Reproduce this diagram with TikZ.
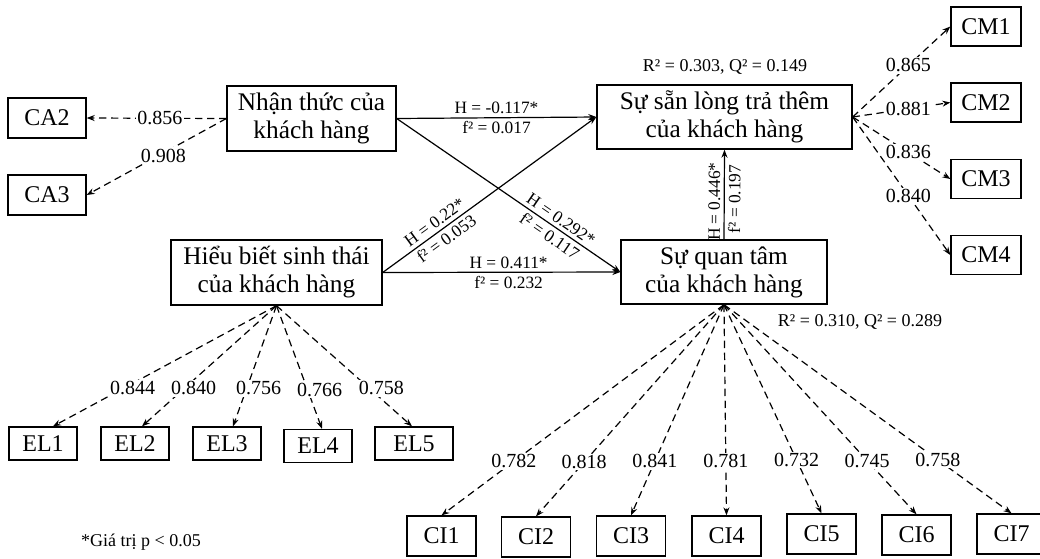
\documentclass[tikz,border=0pt]{standalone}
\usepackage{fontspec}
\setmainfont{Liberation Serif}
\usetikzlibrary{arrows.meta,calc}
\begin{document}
\begin{tikzpicture}[x=0.75pt,y=-0.75pt,
  construct/.style={draw,line width=1pt,inner sep=0pt,align=center,font=\fontsize{19pt}{21pt}\selectfont},
  indic/.style={draw,line width=1pt,inner sep=0pt,font=\fontsize{18pt}{21pt}\selectfont},
  sarrow/.style={line width=0.9pt,-{Stealth[length=6pt,width=4.5pt]}},
  load/.style={line width=0.9pt,dash pattern=on 5.5pt off 3.5pt,-{Stealth[length=6pt,width=4.5pt]}},
  lab/.style={fill=white,inner sep=1pt,font=\fontsize{15pt}{17pt}\selectfont},
  plab/.style={inner sep=2.5pt,font=\fontsize{13pt}{15pt}\selectfont},
  note/.style={font=\fontsize{13.5pt}{16pt}\selectfont}
]
\useasboundingbox (0,0) rectangle (1040,558);

% constructs
\node[construct,minimum width=126.75pt,minimum height=48.75pt] (nt) at (311.5,118.5) {Nhận thức của\\khách hàng};
\node[construct,minimum width=191.25pt,minimum height=48pt] (ss) at (724.5,117) {Sự sẵn lòng trả thêm\\của khách hàng};
\node[construct,minimum width=154.5pt,minimum height=48pt] (qt) at (724,272) {Sự quan tâm\\của khách hàng};
\node[construct,minimum width=158.25pt,minimum height=48.75pt] (hb) at (276.5,272.5) {Hiểu biết sinh thái\\của khách hàng};

% indicators
\node[indic,minimum width=58.5pt,minimum height=30pt] (ca2) at (47,118) {CA2};
\node[indic,minimum width=58.5pt,minimum height=30pt] (ca3) at (47,195) {CA3};

\node[indic,minimum width=52.5pt,minimum height=29.25pt] (cm1) at (986,26.5) {CM1};
\node[indic,minimum width=52.5pt,minimum height=29.25pt] (cm2) at (986,102.5) {CM2};
\node[indic,minimum width=52.5pt,minimum height=29.25pt] (cm3) at (986,179) {CM3};
\node[indic,minimum width=52.5pt,minimum height=29.25pt] (cm4) at (986,255) {CM4};

\node[indic,minimum width=51pt,minimum height=24.75pt] (el1) at (43,443.5) {EL1};
\node[indic,minimum width=51pt,minimum height=24.75pt] (el2) at (135,443.5) {EL2};
\node[indic,minimum width=51pt,minimum height=24.75pt] (el3) at (227,443.5) {EL3};
\node[indic,minimum width=51pt,minimum height=24.75pt] (el4) at (318,446) {EL4};
\node[indic,minimum width=58.5pt,minimum height=24.75pt] (el5) at (414,443.5) {EL5};

\node[indic,minimum width=51.75pt,minimum height=30pt] (ci1) at (441.5,536) {CI1};
\node[indic,minimum width=51.75pt,minimum height=30pt] (ci2) at (536,537) {CI2};
\node[indic,minimum width=51.75pt,minimum height=30pt] (ci3) at (631,536) {CI3};
\node[indic,minimum width=51.75pt,minimum height=30pt] (ci4) at (726.5,536) {CI4};
\node[indic,minimum width=51.75pt,minimum height=30pt] (ci5) at (821.5,534) {CI5};
\node[indic,minimum width=51.75pt,minimum height=30pt] (ci6) at (916.5,535) {CI6};
\node[indic,minimum width=51.75pt,minimum height=30pt] (ci7) at (1011.5,534) {CI7};

% structural paths
\draw[sarrow] (nt.east) -- node[plab,above]{H = -0.117*} node[plab,below]{f² = 0.017} (ss.west);
\draw[sarrow] (nt.east) -- node[plab,above,sloped,pos=0.71]{H = 0.292*} node[plab,below,sloped,pos=0.71]{f² = 0.117} (qt.west);
\draw[sarrow] (hb.east) -- node[plab,above,sloped,pos=0.27]{H = 0.22*} node[plab,below,sloped,pos=0.27]{f² = 0.053} (ss.west);
\draw[sarrow] (hb.east) -- node[plab,above,pos=0.53]{H = 0.411*} node[plab,below,pos=0.53]{f² = 0.232} (qt.west);
\draw[sarrow] (qt.north) -- node[plab,above,sloped,pos=0.42]{H = 0.446*} node[plab,below,sloped,pos=0.45]{f² = 0.197} (ss.south);

% loadings
\draw[load] (nt.west) -- node[lab,pos=0.475]{0.856} (ca2.east);
\draw[load] (nt.west) -- node[lab,pos=0.45,yshift=-2pt]{0.908} (ca3.east);

\draw[load] (ss.east) -- node[lab,pos=0.57]{0.865} (cm1.west);
\draw[load] (ss.east) -- node[lab,pos=0.57]{0.881} (cm2.west);
\draw[load] (ss.east) -- node[lab,pos=0.57]{0.836} (cm3.west);
\draw[load] (ss.east) -- node[lab,pos=0.57]{0.840} (cm4.west);

\draw[load] (hb.south) -- node[lab,pos=0.686,xshift=7pt]{0.844} ($(el1.north)+(10,0)$);
\draw[load] (hb.south) -- node[lab,pos=0.686,xshift=7pt]{0.840} ($(el2.north)+(7,0)$);
\draw[load] (hb.south) -- node[lab,pos=0.686,xshift=9pt]{0.756} ($(el3.north)+(6,0)$);
\draw[load] (hb.south) -- node[lab,pos=0.686,xshift=9pt]{0.766} ($(el4.north)+(4,0)$);
\draw[load] (hb.south) -- node[lab,pos=0.686,xshift=9pt]{0.758} ($(el5.north)+(-2,0)$);

\draw[load] (qt.south) -- node[lab,pos=0.744]{0.782} (ci1.north);
\draw[load] (qt.south) -- node[lab,pos=0.744]{0.818} (ci2.north);
\draw[load] (qt.south) -- node[lab,pos=0.744]{0.841} (ci3.north);
\draw[load] (qt.south) -- node[lab,pos=0.744]{0.781} (ci4.north);
\draw[load] (qt.south) -- node[lab,pos=0.744]{0.732} (ci5.north);
\draw[load] (qt.south) -- node[lab,pos=0.744]{0.745} (ci6.north);
\draw[load] (qt.south) -- node[lab,pos=0.744]{0.758} (ci7.north);

% free texts
\node[note] (r2ss) at (725,67) {R² = 0.303, Q² = 0.149};
\node[note] (r2qt) at (860,322) {R² = 0.310, Q² = 0.289};
\node[note] (fn) at (141,542) {*Giá trị p < 0.05};
\end{tikzpicture}
\end{document}
